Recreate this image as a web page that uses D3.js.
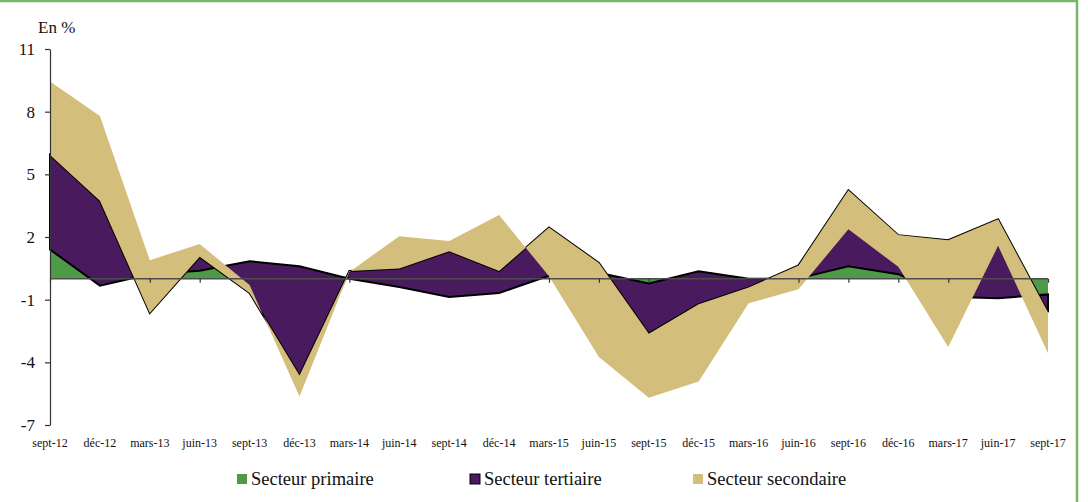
<!DOCTYPE html>
<html>
<head>
<meta charset="utf-8">
<script src="https://cdn.jsdelivr.net/npm/d3@7"></script>
<style>
  html, body { margin: 0; padding: 0; background: #fff; }
  svg text { font-family: "Liberation Serif", "DejaVu Serif", serif; }
</style>
</head>
<body>
<svg id="chart"></svg>
<script>
const categories = ["sept-12", "déc-12", "mars-13", "juin-13", "sept-13", "déc-13", "mars-14",
  "juin-14", "sept-14", "déc-14", "mars-15", "juin-15", "sept-15", "déc-15", "mars-16",
  "juin-16", "sept-16", "déc-16", "mars-17", "juin-17", "sept-17"];

// contributions, en points de %
const primaire = [1.4, -0.33, 0.22, 0.38, 0.84, 0.6, 0.0, -0.39, -0.87, -0.68, 0.14,
  0.29, -0.23, 0.36, 0.0, 0.02, 0.6, 0.22, -0.86, -0.93, -0.75];
const tertiaire = [4.52, 4.06, -1.86, 0.67, -1.52, -5.23, 0.37, 0.88, 2.19, 1.05, 2.31,
  0.47, -2.4, -1.58, -0.42, 0.62, 3.64, 1.87, 2.71, 3.78, -0.85];
const secondaire = [3.53, 4.06, 2.53, 0.61, 0.38, -1.01, -0.04, 1.55, 0.49, 2.68, -2.33,
  -4.51, -3.07, -3.7, -0.75, -1.14, -1.87, -1.52, -5.12, -1.27, -1.96];

const yTicks = [11, 8, 5, 2, -1, -4, -7];

const seriesNames = ["Secteur primaire", "Secteur tertiaire", "Secteur secondaire"];
const colors = ["#4f9a48", "#4a1a5f", "#d3be7c"];
const serif = "'Liberation Serif', 'DejaVu Serif', serif";

const width = 1088, height = 502;
const svg = d3.select("#chart").attr("width", width).attr("height", height);

// cadre vert
svg.append("rect")
  .attr("x", -5).attr("y", 1)
  .attr("width", 1082).attr("height", 520)
  .attr("fill", "none")
  .attr("stroke", "#76b669")
  .attr("stroke-width", 2.5);

const x = d3.scalePoint().domain(categories).range([50, 1048]);
const y = d3.scaleLinear().domain([-7, 11]).range([425, 49]);

const rows = categories.map((c, i) => ({
  cat: c, primaire: primaire[i], tertiaire: tertiaire[i], secondaire: secondaire[i]
}));

// empilement simple (cumul sans tenir compte du signe), comme Excel
const stacked = d3.stack()
  .keys(["primaire", "tertiaire", "secondaire"])
  .offset(d3.stackOffsetNone)(rows);

const area = d3.area()
  .x(d => x(d.data.cat))
  .y0(d => y(d[0]))
  .y1(d => y(d[1]));

stacked.forEach((s, k) => {
  svg.append("path")
    .datum(s)
    .attr("d", area)
    .attr("fill", colors[k])
    .attr("stroke", k === 1 ? "#000" : "none")
    .attr("stroke-width", k === 1 ? 2 : 0)
    .attr("stroke-linejoin", "miter");
});

// axe horizontal à zéro
const xAxis = svg.append("g")
  .attr("transform", `translate(0,${y(0)})`)
  .call(d3.axisBottom(x).tickSize(4).tickFormat(""));
xAxis.select(".domain").attr("stroke", "#4d4d4d").attr("stroke-width", 1.5)
  .attr("d", `M50,0H1048`);
xAxis.selectAll(".tick line").attr("stroke", "#333").attr("stroke-width", 1.2);

// libellés des dates en bas
svg.append("g")
  .selectAll("text")
  .data(categories)
  .enter().append("text")
  .attr("x", d => x(d))
  .attr("y", 447)
  .attr("text-anchor", "middle")
  .attr("font-family", serif)
  .attr("font-size", 12)
  .attr("fill", "#111")
  .text(d => d);

// axe vertical
const yAxis = svg.append("g")
  .attr("transform", "translate(50,0)")
  .call(d3.axisLeft(y).tickValues(yTicks).tickSize(5).tickSizeOuter(0).tickPadding(10)
    .tickFormat(d => String(d)));
yAxis.attr("font-family", serif);
yAxis.select(".domain").attr("stroke", "#333").attr("stroke-width", 1.2);
yAxis.selectAll(".tick line").attr("stroke", "#333").attr("stroke-width", 1.2);
yAxis.selectAll("text")
  .attr("font-family", serif)
  .attr("font-size", 17)
  .attr("fill", "#111");

svg.append("text")
  .attr("x", 38).attr("y", 33)
  .attr("font-family", serif)
  .attr("font-size", 17)
  .attr("fill", "#111")
  .text("En %");

// légende
const legendX = [237, 470, 693];
const legend = svg.append("g")
  .selectAll("g")
  .data(seriesNames)
  .enter().append("g")
  .attr("transform", (d, i) => `translate(${legendX[i]},474)`);

legend.append("rect")
  .attr("width", 10).attr("height", 10)
  .attr("fill", (d, i) => colors[i])
  .attr("stroke", (d, i) => i === 1 ? "#000" : "none")
  .attr("stroke-width", 1);

legend.append("text")
  .attr("x", 14).attr("y", 11)
  .attr("font-family", serif)
  .attr("font-size", 18.5)
  .attr("fill", "#111")
  .text(d => d);
</script>
</body>
</html>
